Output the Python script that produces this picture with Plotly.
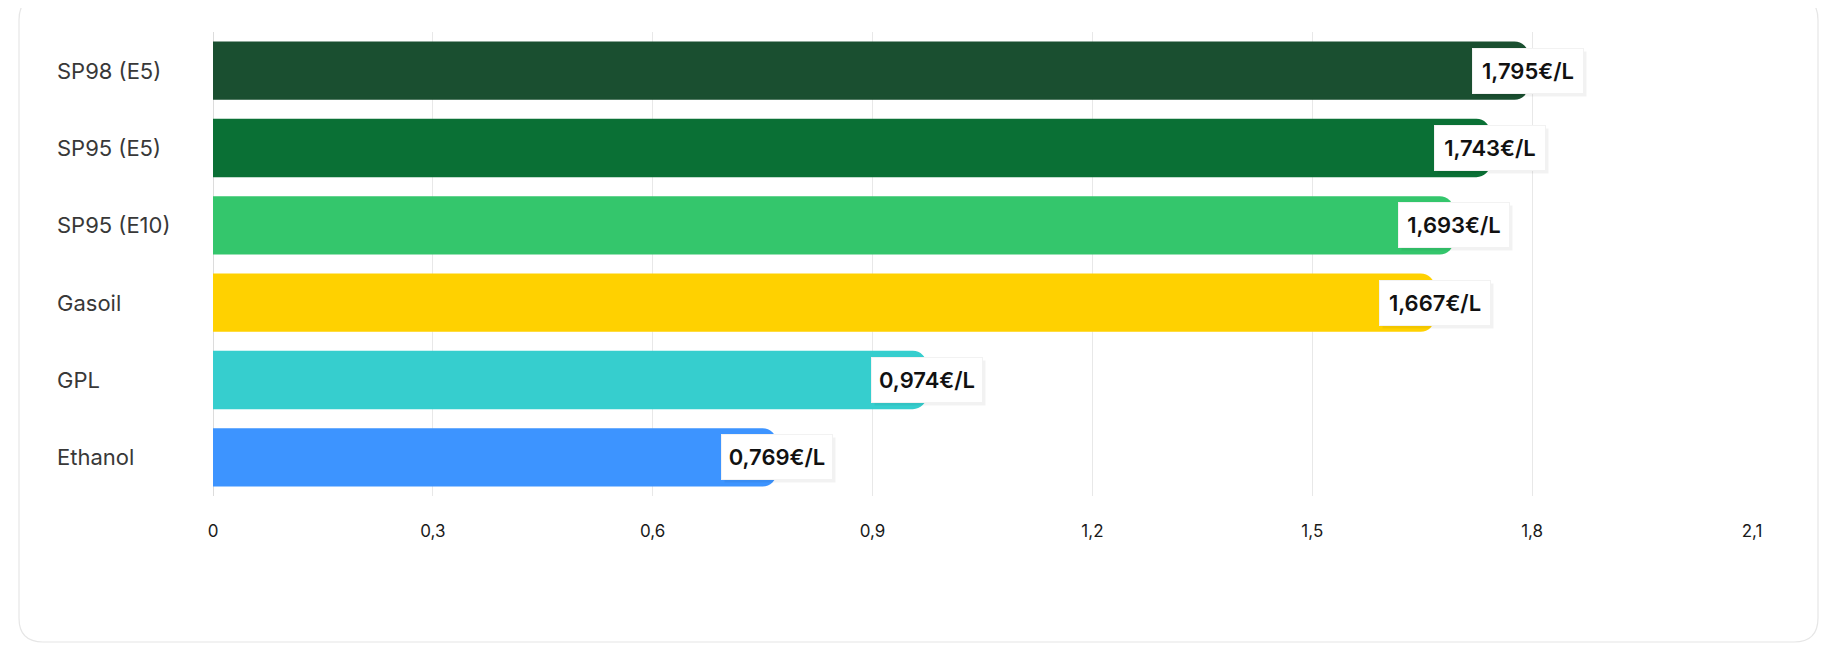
import plotly.graph_objects as go

categories = ["SP98 (E5)", "SP95 (E5)", "SP95 (E10)", "Gasoil", "GPL", "Ethanol"]
prices = [1.795, 1.743, 1.693, 1.667, 0.974, 0.769]
bar_colors = ["#1a4f30", "#0a7035", "#34c66c", "#ffd100", "#36cece", "#3d94ff"]
price_labels = [f"{p:.3f}".replace(".", ",") + "€/L" for p in prices]
tick_values = [0, 0.3, 0.6, 0.9, 1.2, 1.5, 1.8, 2.1]
tick_labels = ["0", "0,3", "0,6", "0,9", "1,2", "1,5", "1,8", "2,1"]

W, H = 1832, 648
ML, MR, MT, MB = 205, 88, 24, 160
PW, PH = W - ML - MR, H - MT - MB


def xp(px):
    return (px - ML) / PW


def yp(py):
    return (H - MB - py) / PH


fig = go.Figure()
fig.add_trace(go.Bar(
    x=prices, y=categories, orientation="h",
    marker=dict(color=bar_colors, line=dict(width=0)),
    hoverinfo="skip", showlegend=False,
))

# card outline (rounded rectangle)
x0, x1, y0, y1, r = 11, 1810, -12, 634, 24
path = (
    f"M {xp(x0 + r)} {yp(y0)} L {xp(x1 - r)} {yp(y0)} "
    f"Q {xp(x1)} {yp(y0)} {xp(x1)} {yp(y0 + r)} "
    f"L {xp(x1)} {yp(y1 - r)} Q {xp(x1)} {yp(y1)} {xp(x1 - r)} {yp(y1)} "
    f"L {xp(x0 + r)} {yp(y1)} Q {xp(x0)} {yp(y1)} {xp(x0)} {yp(y1 - r)} "
    f"L {xp(x0)} {yp(y0 + r)} Q {xp(x0)} {yp(y0)} {xp(x0 + r)} {yp(y0)} Z"
)
fig.add_shape(type="path", path=path, xref="paper", yref="paper",
              line=dict(color="#e6e6e6", width=1.2), fillcolor="rgba(0,0,0,0)",
              layer="below")

# category labels, left aligned
for cat in categories:
    fig.add_annotation(x=xp(47), xref="paper", y=cat, yref="y", text=cat,
                       xanchor="left", yanchor="middle", showarrow=False,
                       font=dict(family="Inter", size=22, color="#383838"))

# value labels with soft shadow
for cat, p, lab in zip(categories, prices, price_labels):
    fig.add_annotation(x=p, y=cat, text=lab, showarrow=False, xanchor="center",
                       yanchor="middle", xshift=3, yshift=-3,
                       width=104, height=38, borderpad=3,
                       bgcolor="rgba(0,0,0,0.05)",
                       font=dict(family="Inter", size=22, color="rgba(0,0,0,0)", weight=600))
    fig.add_annotation(x=p, y=cat, text=lab, showarrow=False, xanchor="center",
                       yanchor="middle", width=104, height=38, borderpad=3,
                       bgcolor="#ffffff", bordercolor="#f2f2f2", borderwidth=1,
                       font=dict(family="Inter", size=22, color="#111111", weight=600))

fig.update_layout(
    width=W, height=H,
    margin=dict(l=ML, r=MR, t=MT, b=MB, pad=0),
    paper_bgcolor="#ffffff", plot_bgcolor="#ffffff",
    bargap=0.245,
    barcornerradius=14,
    font=dict(family="Inter", color="#1a1a1a"),
    xaxis=dict(range=[0, 2.1], tickvals=tick_values, ticktext=tick_labels,
               showgrid=True, gridcolor="#e8e8e8", gridwidth=1,
               zeroline=True, zerolinecolor="#dcdcdc", zerolinewidth=1,
               showline=False, ticks="", ticklabelstandoff=23,
               tickfont=dict(family="Inter", size=17, color="#1a1a1a"),
               fixedrange=True),
    yaxis=dict(categoryorder="array", categoryarray=categories[::-1],
               showticklabels=False, showgrid=False, zeroline=False,
               showline=False, ticks="", fixedrange=True),
)

fig.write_html("out.html")
